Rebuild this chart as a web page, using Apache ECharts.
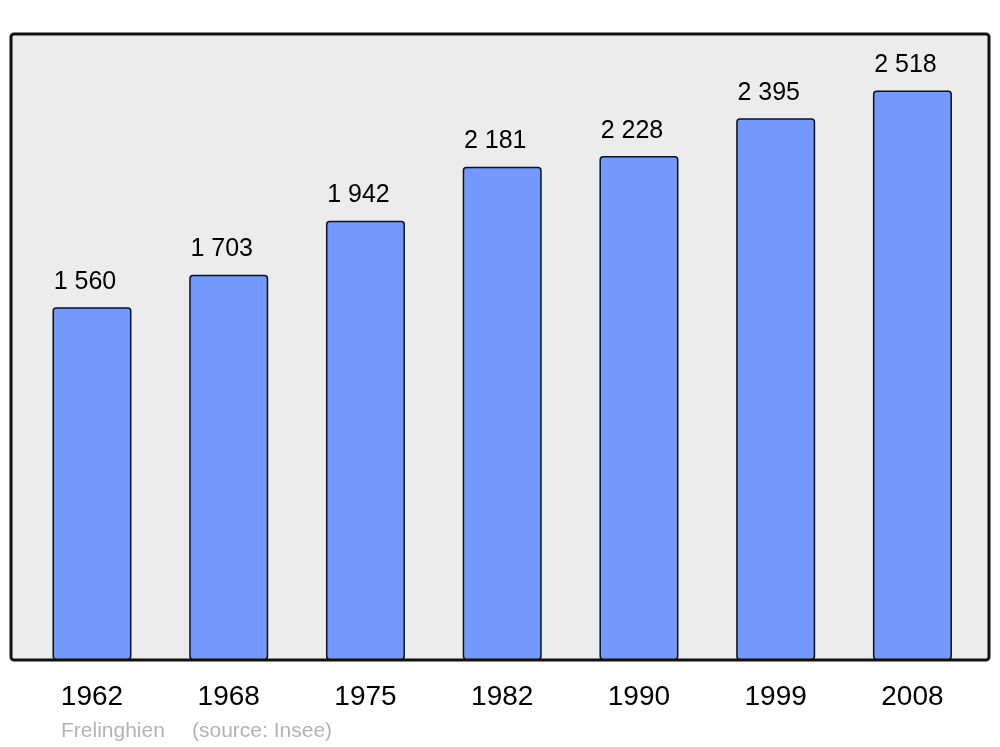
<!DOCTYPE html>
<html>
<head>
<meta charset="utf-8">
<script src="https://cdn.jsdelivr.net/npm/echarts@6/dist/echarts.min.js"></script>
<style>html,body{margin:0;padding:0;background:#fff}#c{width:1000px;height:747px}</style>
</head>
<body>
<div id="c"></div>
<script>
const years = ['1962','1968','1975','1982','1990','1999','2008'];
const population = [1560, 1703, 1942, 2181, 2228, 2395, 2518];
const footerPlace = 'Frelinghien';
const footerSource = '(source: Insee)';

function fmt(v){ return String(v).replace(/\B(?=(\d{3})+(?!\d))/g, ' '); }

const chart = echarts.init(document.getElementById('c'), null, {renderer:'canvas'});
chart.setOption({
  animation: false,
  backgroundColor: '#ffffff',
  textStyle: { fontFamily: 'Liberation Sans, Arial, sans-serif' },
  graphic: [
    { type:'rect', z:-10, shape:{x:11,y:34,width:978,height:626,r:3},
      style:{fill:'#ececec', stroke:'#111111', lineWidth:3} },
    { type:'text', left:61, top:721, style:{text:footerPlace, fill:'#b3b3b3', font:'21px "Liberation Sans", Arial, sans-serif'} },
    { type:'text', left:192, top:721, style:{text:footerSource, fill:'#b3b3b3', font:'21px "Liberation Sans", Arial, sans-serif'} }
  ],
  grid: { left:23.6, right:19.2, top:34, bottom:87, containLabel:false },
  xAxis: {
    type:'category', data: years,
    axisLine:{show:false}, axisTick:{show:false},
    axisLabel:{ color:'#000', fontSize:28, margin:23, fontFamily:'Liberation Sans, Arial, sans-serif' }
  },
  yAxis: {
    type:'value', min:0, max:2768,
    show:false, splitLine:{show:false}
  },
  series: [{
    type:'bar', data: population, barWidth:79,
    itemStyle:{ color:'#7399ff', borderColor:'#111111', borderWidth:1.5, borderRadius:3 },
    label:{ show:true, position:'top', distance:13, offset:[-7,0], color:'#000', fontSize:25,
      fontFamily:'Liberation Sans, Arial, sans-serif',
      formatter: p => fmt(p.value) }
  }]
});
</script>
</body>
</html>
